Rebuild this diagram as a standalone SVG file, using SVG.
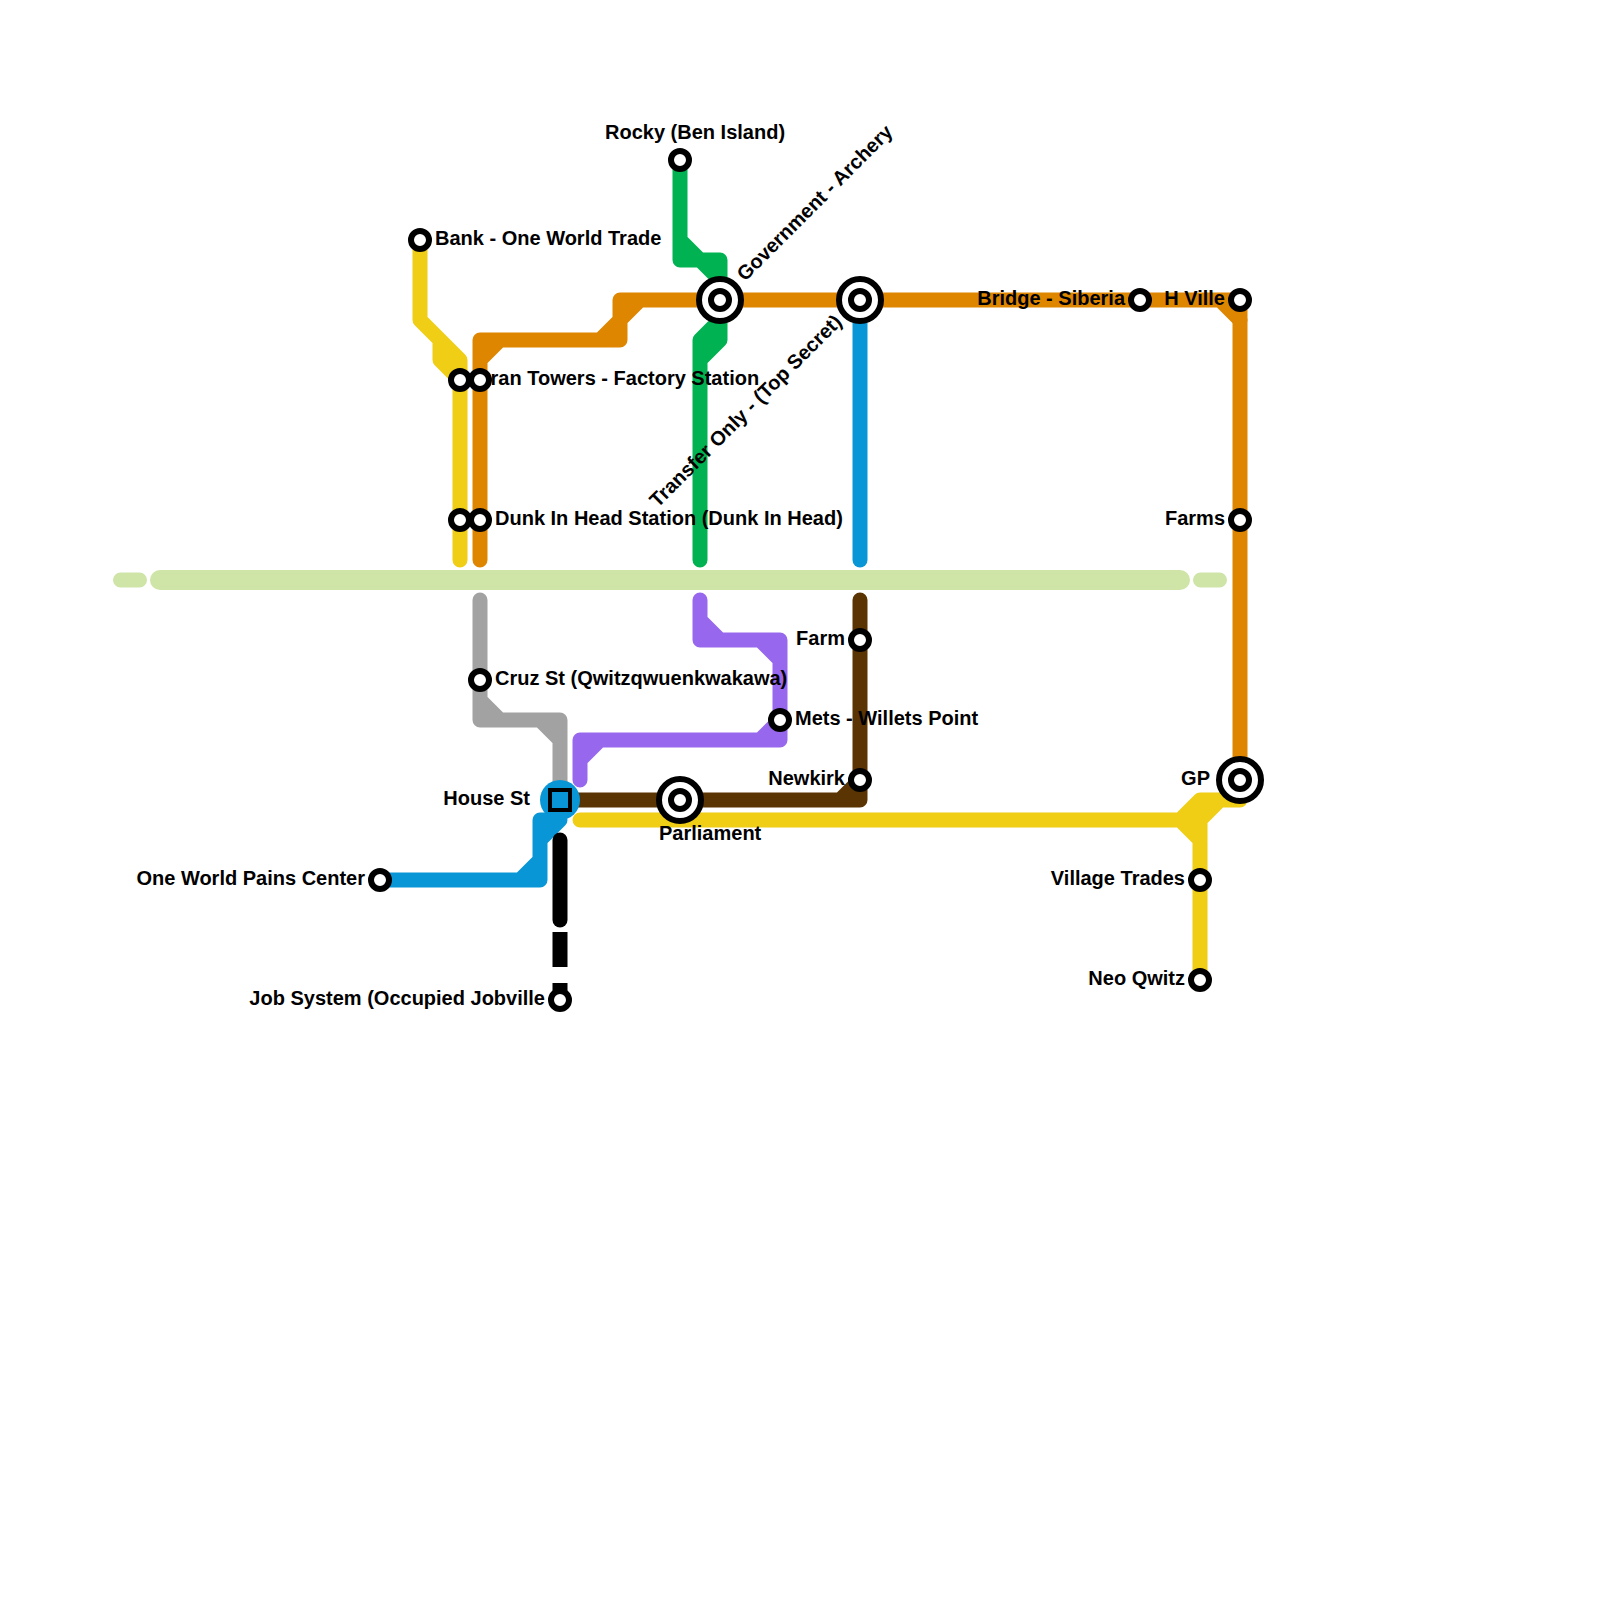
<svg xmlns="http://www.w3.org/2000/svg" width="1600" height="1600" viewBox="0 0 1600 1600">
<style>
.l{fill:none;stroke-width:15;stroke-linecap:round;stroke-linejoin:round}
.bt{stroke-linecap:butt}
.y{stroke:#f0ce15}.o{stroke:#df8600}.g{stroke:#00b251}.b{stroke:#0896d7}.a{stroke:#a2a2a2}.p{stroke:#9768ee}.n{stroke:#5a3403}.k{stroke:#000}
.w{fill:none;stroke:#cfe4a7;stroke-linecap:round}
.s{fill:#fff;stroke:#000;stroke-width:6}
.r{fill:#fff;stroke:#000;stroke-width:6}
text{font-family:"Liberation Sans",Arial,sans-serif;font-weight:700;font-size:20px;fill:#000}
.e{text-anchor:end}
</style>
<rect width="1600" height="1600" fill="#fff"/>
<g id="connectors">
<path class="w" stroke-width="15" d="M120.500 580H139.500M1200.500 580H1219.500"/>
<path class="w" stroke-width="20" d="M160 580H1180"/>
<path class="l y" d="M420 240V320L460 360V560M440 340V360L460 380"/>
<path class="l o" d="M480 560V340H620V300H1240M480 360L500 340M600 340L620 320L640 300M1220 300L1240 320"/>
<path class="l o bt" d="M1240 300V780"/>
<path class="l g" d="M680 160V260H720V340L700 360V560M680 240L700 260L720 280M700 360V340L720 320"/>
<path class="l b" d="M860 300V560"/>
<path class="l a" d="M480 600V720H560V790M480 700L500 720M540 720L560 740"/>
<path class="l p" d="M700 600V640H780V740H580V780M700 620L720 640M760 640L780 660M760 740L780 720M580 760L600 740"/>
<path class="l n" d="M860 600V800H570M840 800L860 780"/>
<path class="l y" d="M580 820H1200M1180 820L1200 800H1240M1200 800V980M1180 820L1200 840M1200 820L1220 800"/>
<path class="l b" d="M380 880H540V820H560M520 880L540 860M540 840L560 820"/>
<path class="l k" d="M560 840V920"/>
<path class="l k bt" d="M560 932V967M560 983V1000"/>
</g>
<g id="labels">
<text x="435" y="245">Bank - One World Trade</text>
<text x="605" y="139">Rocky (Ben Island)</text>
<text x="475" y="385">Oran Towers - Factory Station</text>
<text x="495" y="525">Dunk In Head Station (Dunk In Head)</text>
<text x="495" y="685">Cruz St (Qwitzqwuenkwakawa)</text>
<text x="795" y="725">Mets - Willets Point</text>
<text class="e" x="845" y="645">Farm</text>
<text class="e" x="845" y="785">Newkirk</text>
<text class="e" x="530" y="805">House St</text>
<text x="659" y="840">Parliament</text>
<text class="e" x="365" y="885">One World Pains Center</text>
<text class="e" x="545" y="1005">Job System (Occupied Jobville</text>
<text class="e" x="1185" y="985">Neo Qwitz</text>
<text class="e" x="1185" y="885">Village Trades</text>
<text class="e" x="1210" y="785">GP</text>
<text class="e" x="1225" y="525">Farms</text>
<text class="e" x="1225" y="305">H Ville</text>
<text class="e" x="1125" y="305">Bridge - Siberia</text>
<text transform="translate(745 282) rotate(-45)">Government - Archery</text>
<text class="e" transform="translate(843 323) rotate(-45)">Transfer Only - (Top Secret)</text>
</g>
<g id="st-bank"><circle class="s" cx="420" cy="240" r="9"/></g>
<g id="st-rocky"><circle class="s" cx="680" cy="160" r="9"/></g>
<g id="st-gov"><circle class="r" cx="720" cy="300" r="21"/><circle class="s" cx="720" cy="300" r="9"/></g>
<g id="st-transfer"><circle class="r" cx="860" cy="300" r="21"/><circle class="s" cx="860" cy="300" r="9"/></g>
<g id="st-bridge"><circle class="s" cx="1140" cy="300" r="9"/></g>
<g id="st-hville"><circle class="s" cx="1240" cy="300" r="9"/></g>
<g id="st-farms"><circle class="s" cx="1240" cy="520" r="9"/></g>
<g id="st-gp"><circle class="r" cx="1240" cy="780" r="21"/><circle class="s" cx="1240" cy="780" r="9"/></g>
<g id="st-village"><circle class="s" cx="1200" cy="880" r="9"/></g>
<g id="st-neo"><circle class="s" cx="1200" cy="980" r="9"/></g>
<g id="st-tran-y"><circle class="s" cx="460" cy="380" r="9"/></g>
<g id="st-tran-o"><circle class="s" cx="480" cy="380" r="9"/></g>
<g id="st-dunk-y"><circle class="s" cx="460" cy="520" r="9"/></g>
<g id="st-dunk-o"><circle class="s" cx="480" cy="520" r="9"/></g>
<g id="st-cruz"><circle class="s" cx="480" cy="680" r="9"/></g>
<g id="st-farm"><circle class="s" cx="860" cy="640" r="9"/></g>
<g id="st-mets"><circle class="s" cx="780" cy="720" r="9"/></g>
<g id="st-newkirk"><circle class="s" cx="860" cy="780" r="9"/></g>
<g id="st-parliament"><circle class="r" cx="680" cy="800" r="21"/><circle class="s" cx="680" cy="800" r="9"/></g>
<g id="st-house"><circle cx="560" cy="800" r="20" fill="#0896d7"/><rect x="550" y="790" width="20" height="20" fill="#0896d7" stroke="#000" stroke-width="4"/></g>
<g id="st-pains"><circle class="s" cx="380" cy="880" r="9"/></g>
<g id="st-job"><circle class="s" cx="560" cy="1000" r="9"/></g>
</svg>
